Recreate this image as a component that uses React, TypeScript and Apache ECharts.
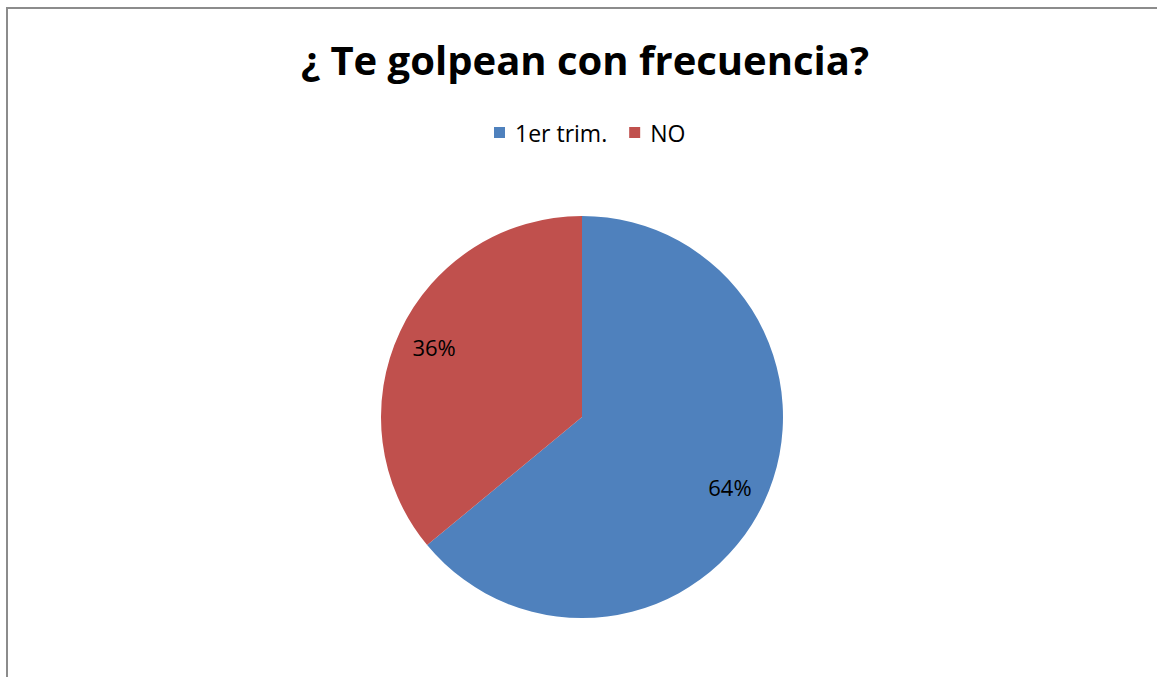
import React, { useEffect, useRef } from "react";
import * as echarts from "echarts";

const titleText = "¿ Te golpean con frecuencia?";
const categories = ["1er trim.", "NO"];
const values = [64, 36];
const colors = ["#4F81BD", "#C0504D"];

export default function App() {
  const ref = useRef<HTMLDivElement>(null);
  useEffect(() => {
    if (!ref.current) return;
    const chart = echarts.init(ref.current, undefined, { renderer: "svg" });
    const data = categories.map((name, i) => ({ name, value: values[i], itemStyle: { color: colors[i] } }));
    const font = "Open Sans, sans-serif";
    chart.setOption({
      animation: false,
      backgroundColor: "#fff",
      title: {
        text: titleText,
        left: 580,
        textAlign: "center",
        top: 34,
        textStyle: { fontSize: 40, fontWeight: "bold", color: "#000", fontFamily: font },
      },
      legend: {
        data: categories,
        left: 489,
        top: 116,
        itemWidth: 11,
        itemHeight: 11,
        itemGap: 22,
        icon: "rect",
        textStyle: { fontSize: 23, color: "#000", fontFamily: font, padding: [0, 0, 0, 5] },
      },
      graphic: [
        {
          type: "rect",
          shape: { x: 7, y: 8, width: 1200, height: 800 },
          style: { fill: "none", stroke: "#8c8c8c", lineWidth: 2 },
          silent: true,
        },
      ],
      series: [
        {
          type: "pie",
          center: [582, 417],
          radius: [0, 201],
          startAngle: 90,
          clockwise: true,
          data,
          label: { show: false },
          labelLine: { show: false },
          silent: true,
        },
        {
          type: "pie",
          center: [582, 417],
          radius: [120, 201],
          startAngle: 90,
          clockwise: true,
          data: categories.map((name, i) => ({ name, value: values[i] })),
          itemStyle: { color: "transparent" },
          label: {
            show: true,
            position: "inside",
            formatter: (p: any) => `${Math.round(p.percent)}%`,
            fontSize: 22,
            color: "#000",
            fontFamily: font,
          },
          labelLine: { show: false },
          silent: true,
          legendHoverLink: false,
        },
      ],
    });
    return () => chart.dispose();
  }, []);
  return <div ref={ref} style={{ position: "fixed", left: 0, top: 0, width: 1157, height: 677 }} />;
}
